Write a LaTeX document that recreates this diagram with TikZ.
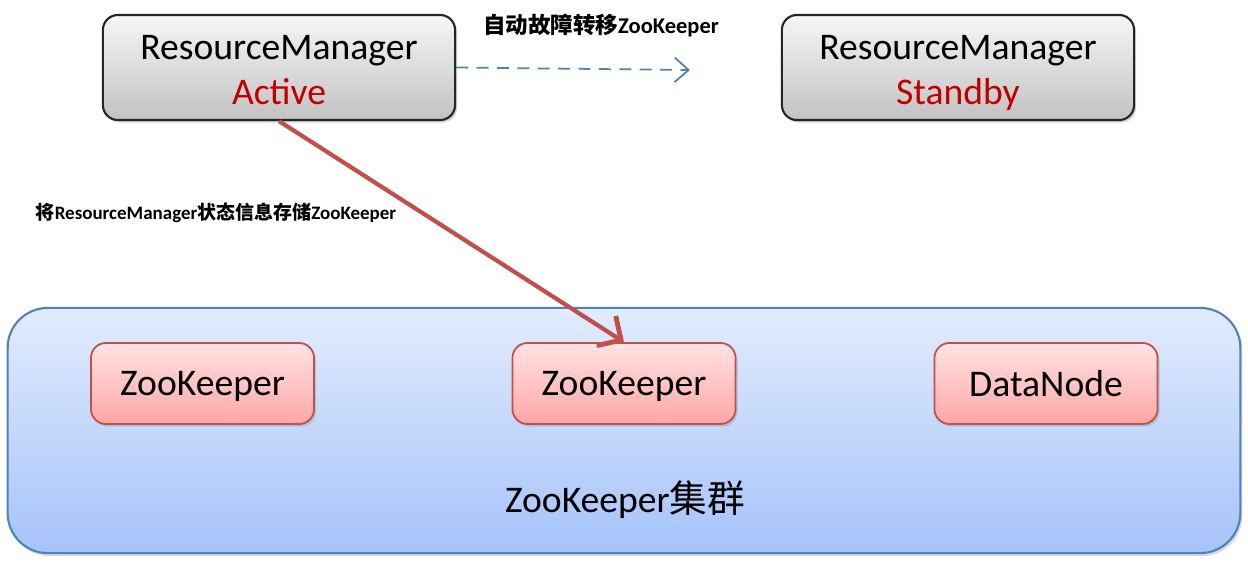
\documentclass[tikz,border=0pt]{standalone}
\usepackage{fontspec}
\setmainfont{Carlito}
\newfontfamily\cjk{Noto Sans CJK SC}
\usetikzlibrary{shadows,arrows.meta}
\definecolor{rmred}{HTML}{C00000}
\definecolor{arrred}{HTML}{C0504D}
\definecolor{arrblue}{HTML}{4F81BD}
\definecolor{graytop}{HTML}{F6F6F6}
\definecolor{graybot}{HTML}{C2C2C2}
\definecolor{pinktop}{HTML}{FFE3E3}
\definecolor{pinkbot}{HTML}{FFA6A6}
\definecolor{bluetop}{HTML}{E2ECFD}
\definecolor{bluebot}{HTML}{A5C3FA}
\tikzset{
  rmbox/.style={draw=black!85, line width=0.6pt, rounded corners=0.15cm,
    top color=graytop, bottom color=graybot,
    minimum width=3.52cm, minimum height=1.05cm, align=center,
    text height=20.8pt, text depth=0pt,
    font=\fontsize{10.7}{12.8}\selectfont,
    drop shadow={shadow xshift=0.02cm, shadow yshift=-0.025cm, opacity=0.35}},
  zkbox/.style={draw=arrred, line width=0.5pt, rounded corners=0.15cm,
    top color=pinktop, bottom color=pinkbot,
    minimum width=2.23cm, minimum height=0.81cm, text depth=0pt,
    font=\fontsize{10.7}{12.8}\selectfont,
    drop shadow={shadow xshift=0.02cm, shadow yshift=-0.025cm, opacity=0.3}},
  lbl/.style={font=\bfseries, inner sep=0pt}
}
\begin{document}
\begin{tikzpicture}[x=0.01cm, y=-0.01cm]
  \useasboundingbox (0,0) rectangle (1248,566);

  % 集群
  \node[draw=arrblue, line width=0.6pt, rounded corners=0.4cm,
        top color=bluetop, bottom color=bluebot,
        minimum width=12.32cm, minimum height=2.45cm,
        drop shadow={shadow xshift=0.02cm, shadow yshift=-0.03cm, opacity=0.3}]
        (cluster) at (624,430.5) {};
  \node[font=\fontsize{10.7}{12.8}\selectfont] (clustertxt) at (625,500) {ZooKeeper{\cjk 集群}};

  % ResourceManager
  \node[rmbox] (rma) at (279,67.5) {ResourceManager\\\textcolor{rmred}{Active}};
  \node[rmbox] (rms) at (958,67.5) {ResourceManager\\\textcolor{rmred}{Standby}};

  % ZooKeeper 节点
  \node[zkbox] (zk1) at (202.5,383.5) {ZooKeeper};
  \node[zkbox] (zk2) at (624,383.5) {ZooKeeper};
  \node[zkbox] (dn)  at (1046,383.5) {DataNode};

  % 自动故障转移
  \coordinate (failend) at (690,70);
  \draw[arrblue, line width=0.5pt, dash pattern=on 3.4pt off 2.4pt,
        -{Straight Barb[length=4pt, width=7pt]}] (rma.east) -- (failend);
  \node[lbl, font=\bfseries\fontsize{6.4}{8}\selectfont] (faillbl) at (601,26)
        {{\cjk\bfseries 自动故障转移}ZooKeeper};

  % 状态信息存储
  \draw[arrred, line width=1.2pt, -{Straight Barb[length=5pt, width=10pt, line width=1.4pt]}]
        (rma.south) -- (zk2.north);
  \node[lbl, font=\bfseries\fontsize{5.4}{7}\selectfont] (storelbl) at (216,213)
        {{\cjk\bfseries 将}ResourceManager{\cjk\bfseries 状态信息存储}ZooKeeper};
\end{tikzpicture}
\end{document}
